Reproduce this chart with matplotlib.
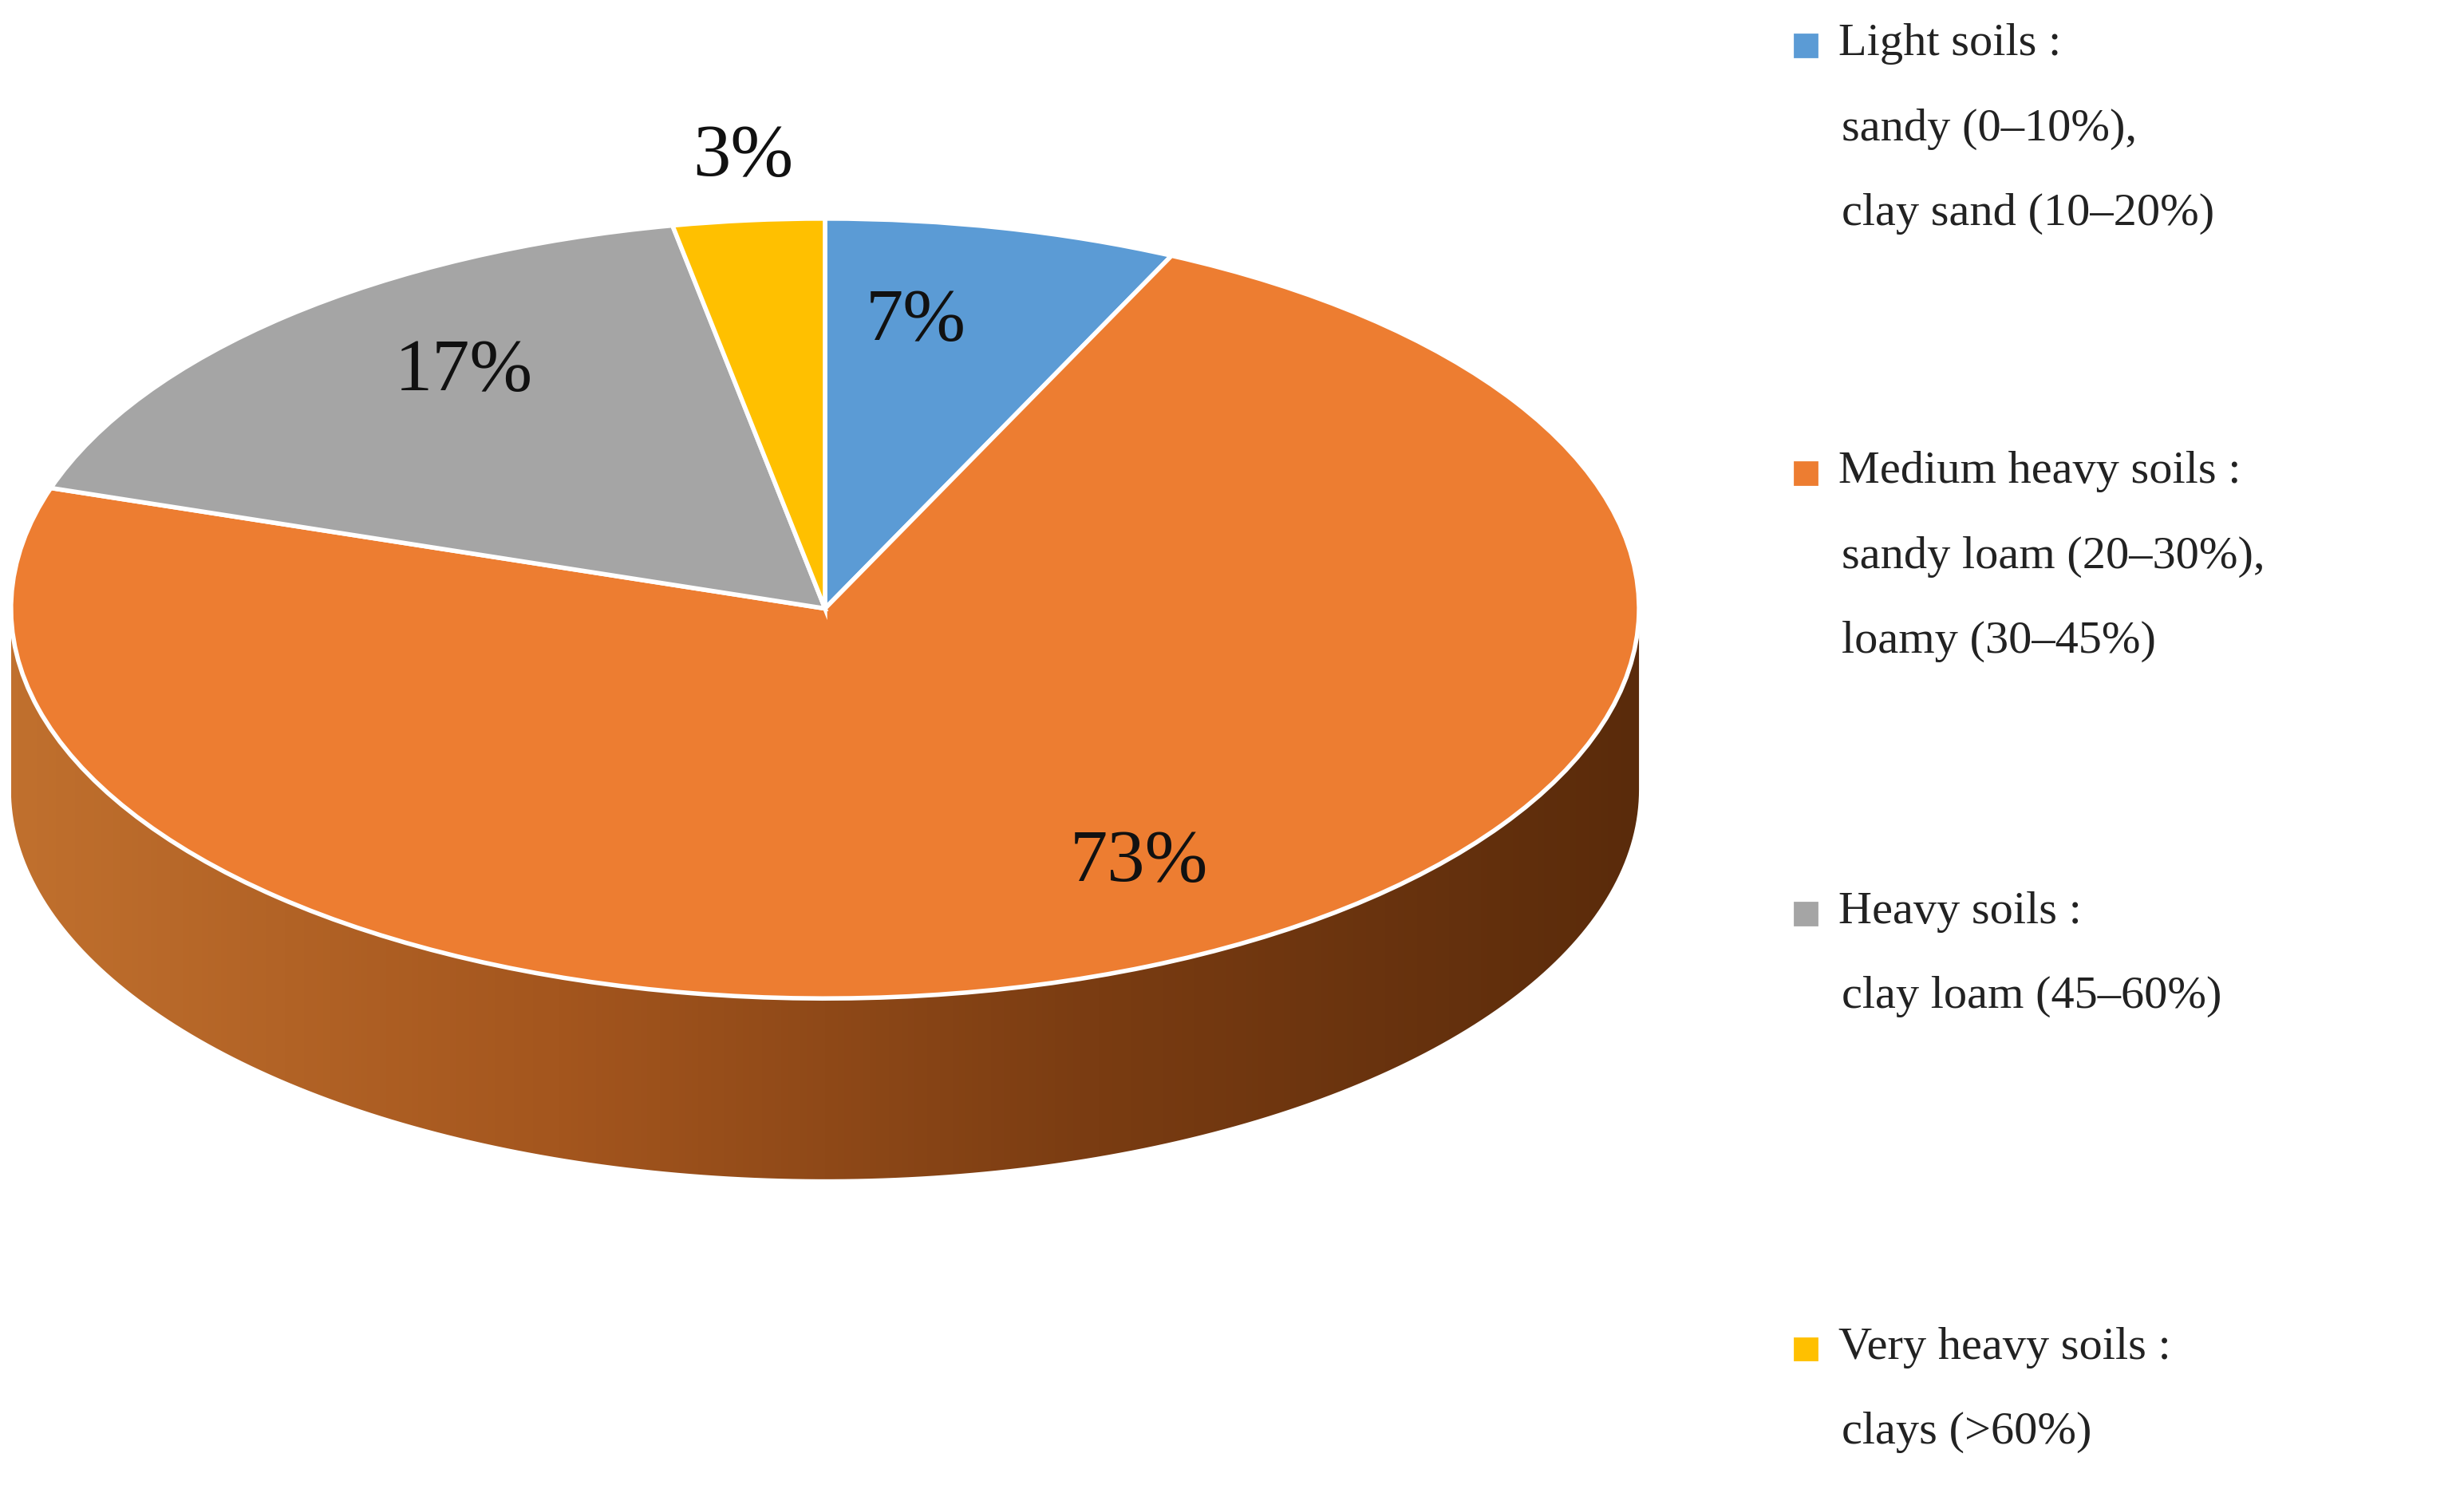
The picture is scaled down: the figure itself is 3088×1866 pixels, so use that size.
import numpy as np
import matplotlib.pyplot as plt
from matplotlib.transforms import Affine2D
from matplotlib.patches import Polygon

values = [7, 73, 17, 3]
pct_labels = ["7%", "73%", "17%", "3%"]
colors = ["#5b9bd5", "#ed7d31", "#a5a5a5", "#ffc000"]
legend_lines = [["Light soils :", "sandy (0–10%),", "clay sand (10–20%)"],
                ["Medium heavy soils :", "sandy loam (20–30%),", "loamy (30–45%)"],
                ["Heavy soils :", "clay loam (45–60%)"],
                ["Very heavy soils :", "clays (>60%)"]]

W, H = 1568, 947
fig = plt.figure(figsize=(15.44, 9.33), dpi=200)
ax = fig.add_axes([0, 0, 1, 1])
ax.set_xlim(0, W); ax.set_ylim(0, H); ax.axis("off")
plt.rcParams['font.family'] = ['Liberation Serif', 'DejaVu Serif']

cx, cy, rx, ry, depth = 525, 560, 518, 248, 115
# side
th = np.linspace(np.pi, 2*np.pi, 200)
top = np.c_[cx + rx*np.cos(th), cy + ry*np.sin(th)]
bot = np.c_[cx + rx*np.cos(th[::-1]), cy - depth + ry*np.sin(th[::-1])]
side = Polygon(np.vstack([top, bot]), closed=True, facecolor="none", edgecolor="none")
ax.add_patch(side)
from matplotlib.colors import LinearSegmentedColormap
cmap = LinearSegmentedColormap.from_list("s", ["#c0702e", "#a4561e", "#7a3c12", "#5a2b0b"])
grad = np.linspace(0, 1, 256)[None, :]
im = ax.imshow(grad, cmap=cmap, extent=[cx-rx, cx+rx, cy-ry-depth, cy], aspect="auto", zorder=1)
im.set_clip_path(side)

tr = Affine2D().scale(rx, ry).translate(cx, cy) + ax.transData
wedges, _ = ax.pie(values, colors=colors, startangle=90, counterclock=False,
                   wedgeprops=dict(edgecolor="white", linewidth=2))
for w in wedges:
    w.set_transform(tr); w.set_zorder(2)
ax.set_xlim(0, W); ax.set_ylim(0, H); ax.set_aspect("auto")
ax.axis("off")

lpos = [(583, 742), (725, 398), (295, 710), (473, 847)]
for (x, y), t in zip(lpos, pct_labels):
    ax.text(x, y, t, fontsize=34, ha="center", va="center", color="#111111", zorder=3)

starts = [28, 300, 580, 857]
for col, lines, y0 in zip(colors, legend_lines, starts):
    ax.add_patch(plt.Rectangle((1142, H - y0 - 8), 14, 14, color=col))
    for i, s in enumerate(lines):
        ax.text(1170 if i == 0 else 1172, H - y0 - i*54, s, fontsize=21,
                va="center", ha="left", color="#222222")

fig.savefig("out.png", dpi=200)
